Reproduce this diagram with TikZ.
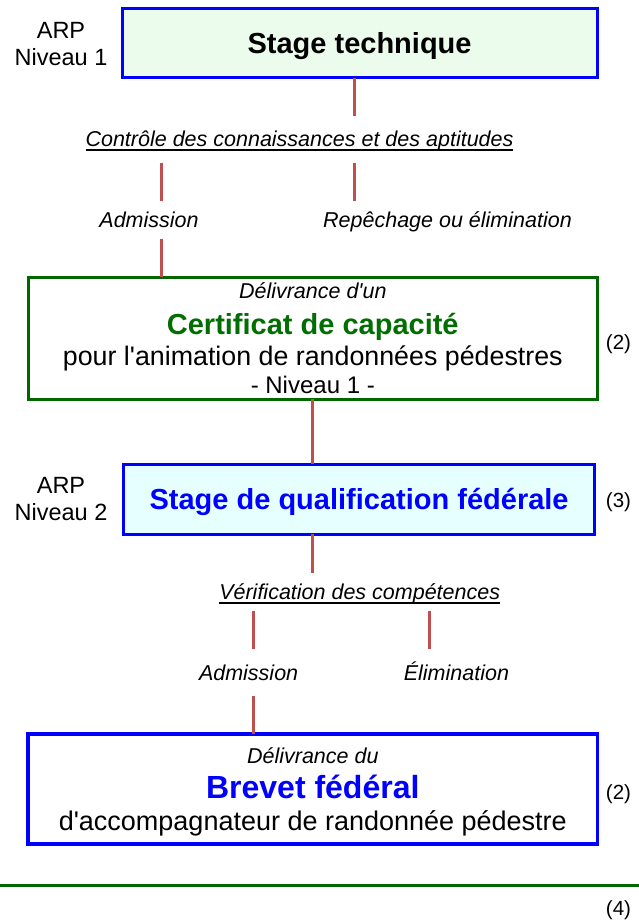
\documentclass[tikz,border=0pt]{standalone}
\usepackage{fontspec}
\setmainfont{Liberation Sans}[Ligatures=TeXOff]
\newsavebox{\soulboite}
\newcommand{\souligne}[1]{\sbox{\soulboite}{#1}\rlap{\vrule height -2.4pt depth 4.4pt width \wd\soulboite}\usebox{\soulboite}}
\lineskiplimit=-100pt
\definecolor{lienrouge}{RGB}{192,80,77}
\definecolor{bleu}{RGB}{0,0,255}
\definecolor{vertcadre}{RGB}{0,102,0}
\definecolor{verttexte}{RGB}{0,110,0}
\definecolor{fondvert}{RGB}{236,252,236}
\definecolor{fondcyan}{RGB}{230,255,255}

\begin{document}
\begin{tikzpicture}[x=1pt, y=-1pt,
		cadre/.style={draw, line width=3pt, inner sep=0pt, outer sep=0pt, align=center, text depth=0pt},
		lien/.style={draw=lienrouge, line width=3pt},
		choix/.style={font=\fontsize{21.5}{26}\selectfont\itshape, text height=15pt, text depth=0pt, inner xsep=0pt, inner ysep=11.5pt, outer sep=0pt},
		niveau/.style={font=\fontsize{23.5}{27}\selectfont, align=center, text height=54pt, text depth=0pt, inner sep=0pt},
		renvoi/.style={font=\fontsize{20.5}{24}\selectfont, anchor=base, inner sep=0pt}]
		\useasboundingbox (0,0) rectangle (639,921);

		% Draw the stage boxes
		\node[cadre, draw=bleu, fill=fondvert, minimum width=474.8pt, minimum height=69pt, text height=20.6pt, font=\fontsize{29}{32}\selectfont\bfseries] (stagetech) at (359.6,43) {Stage technique};
		\node[cadre, draw=vertcadre, minimum width=569pt, minimum height=121.7pt, text height=110.2pt, font=\fontsize{26.8}{28.3}\selectfont] (certif) at (312.8,338.2) {{\fontsize{21.5}{28.3}\selectfont\itshape Délivrance d'un}\\[7.7pt]{\fontsize{29}{28.3}\selectfont\bfseries\color{verttexte}Certificat de capacité}\\[2.7pt]pour l'animation de randonnées pédestres\\{\fontsize{24}{28.3}\selectfont - Niveau 1 -}};
		\node[cadre, draw=bleu, fill=fondcyan, text=bleu, minimum width=471.2pt, minimum height=70pt, text height=20.6pt, font=\fontsize{29}{32}\selectfont\bfseries] (qualif) at (359.1,499) {Stage de qualification fédérale};
		\node[cadre, draw=bleu, line width=3.3pt, minimum width=569.5pt, minimum height=110pt, text height=82pt, font=\fontsize{27}{27}\selectfont] (brevet) at (312.8,789) {{\fontsize{21.5}{27}\selectfont\itshape Délivrance du}\\[8pt]{\fontsize{32}{27}\selectfont\bfseries\color{bleu}Brevet fédéral}\\[4.7pt]d'accompagnateur de randonnée pédestre};

		% Levels on the left
		\node[niveau] (arpA) at (61,38) {ARP\\Niveau 1};
		\node[niveau] (arpB) at (61,493) {ARP\\Niveau 2};

		% Checks and outcomes
		\node[choix, inner ysep=16pt] (controle) at (299.5,139.2) {\souligne{Contrôle des connaissances et des aptitudes}};
		\node[choix] (admisA) at (149,220.2) {Admission};
		\node[choix] (repechage) at (447.5,220.2) {Repêchage ou élimination};
		\node[choix] (verif) at (359.7,591.8) {\souligne{Vérification des compétences}};
		\node[choix, inner ysep=16pt] (admisB) at (248.6,672.5) {Admission};
		\node[choix, inner ysep=16pt] (elim) at (456.4,672.5) {Élimination};

		% Notes on the right
		\node[renvoi] (noteA) at (618.5,349.3) {(2)};
		\node[renvoi] (noteB) at (618.5,507.3) {(3)};
		\node[renvoi] (noteC) at (618.5,799) {(2)};
		\node[renvoi] (noteD) at (618.5,915) {(4)};

		% Draw the links
		\coordinate (axeA) at (354.5,0);
		\coordinate (axeG) at (161,0);
		\coordinate (axeM) at (312.5,0);
		\coordinate (axeGB) at (253.5,0);
		\coordinate (axeDB) at (429.5,0);
		\draw[lien] (stagetech.south -| axeA) -- (controle.north -| axeA);
		\draw[lien] (controle.south -| axeG) -- (admisA.north -| axeG);
		\draw[lien] (controle.south -| axeA) -- (repechage.north -| axeA);
		\draw[lien] (admisA.south -| axeG) -- (certif.north -| axeG);
		\draw[lien] (certif.south -| axeM) -- (qualif.north -| axeM);
		\draw[lien] (qualif.south -| axeM) -- (verif.north -| axeM);
		\draw[lien] (verif.south -| axeGB) -- (admisB.north -| axeGB);
		\draw[lien] (verif.south -| axeDB) -- (elim.north -| axeDB);
		\draw[lien] (admisB.south -| axeGB) -- (brevet.north -| axeGB);

		% Draw the bottom rule
		\coordinate (regleG) at (0,885.7);
		\coordinate (regleD) at (639,885.7);
		\draw[vertcadre, line width=3.3pt] (regleG) -- (regleD);
	\end{tikzpicture}
\end{document}
